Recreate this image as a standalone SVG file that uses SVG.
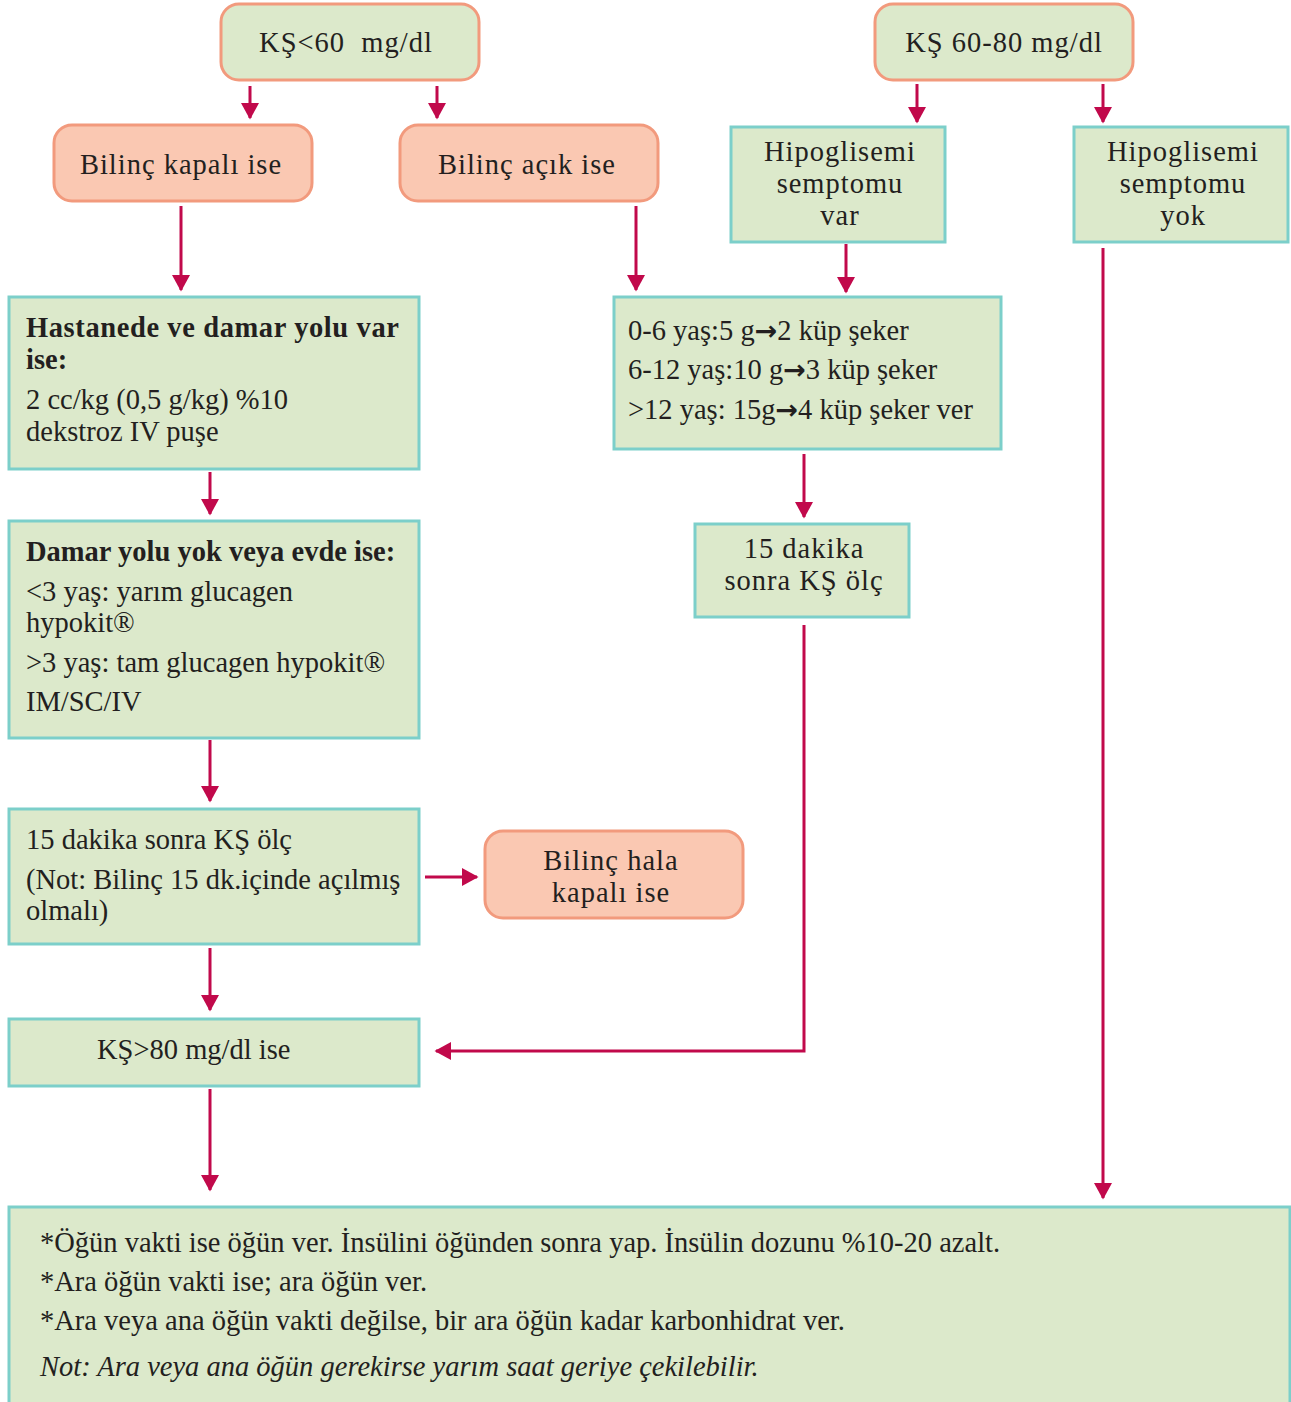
<svg xmlns="http://www.w3.org/2000/svg" width="1291" height="1402" viewBox="0 0 1291 1402">
<style>
text{font-family:"Liberation Serif","Times New Roman",serif;font-size:28.5px;fill:#231f20;white-space:pre}
.c{text-anchor:middle;letter-spacing:1px}
.b{font-weight:bold}
.i{font-style:italic}
.ar{font-family:"DejaVu Sans",sans-serif;font-weight:bold;font-size:27px}
.g{fill:#dce9cb;stroke:#7ccfca;stroke-width:3}
.o{fill:#fac8b2;stroke:#f29a7d;stroke-width:3}
.go{fill:#dce9cb;stroke:#f29a7d;stroke-width:3}
.ln{fill:none;stroke:#c1094b;stroke-width:3;marker-end:url(#ah)}
</style>
<defs>
<marker id="ah" markerWidth="6" markerHeight="6" refX="5" refY="3" orient="auto" markerUnits="strokeWidth">
<path d="M0,0 L5.5,3 L0,6 Z" fill="#c1094b"/>
</marker>
</defs>
<g id="connectors">
<path class="ln" d="M250,86 V118"/>
<path class="ln" d="M437,86 V118"/>
<path class="ln" d="M917,84 V122"/>
<path class="ln" d="M1103,84 V122"/>
<path class="ln" d="M181,206 V290"/>
<path class="ln" d="M636,206 V290"/>
<path class="ln" d="M846,244 V292"/>
<path class="ln" d="M210,472 V514"/>
<path class="ln" d="M804,454 V517"/>
<path class="ln" d="M210,740 V801"/>
<path class="ln" d="M425,877 H477"/>
<path class="ln" d="M210,948 V1010"/>
<path class="ln" d="M804,625 V1051 H436"/>
<path class="ln" d="M210,1089 V1190"/>
<path class="ln" d="M1103,248 V1198"/>
</g>
<g id="n1"><rect class="go" x="221" y="4" width="258" height="76" rx="18"/><text class="c" x="346" y="52">KŞ&lt;60  mg/dl</text></g>
<g id="n2"><rect class="go" x="875" y="4" width="258" height="76" rx="18"/><text class="c" x="1004" y="52">KŞ 60-80 mg/dl</text></g>
<g id="n3"><rect class="o" x="54" y="125" width="258" height="76" rx="18"/><text class="c" x="181" y="174">Bilinç kapalı ise</text></g>
<g id="n4"><rect class="o" x="400" y="125" width="258" height="76" rx="18"/><text class="c" x="527" y="174">Bilinç açık ise</text></g>
<g id="n5"><rect class="g" x="731" y="127" width="214" height="115"/><text class="c" x="840" y="161">Hipoglisemi</text><text class="c" x="840" y="193">semptomu</text><text class="c" x="840" y="225">var</text></g>
<g id="n6"><rect class="g" x="1074" y="127" width="214" height="115"/><text class="c" x="1183" y="161">Hipoglisemi</text><text class="c" x="1183" y="193">semptomu</text><text class="c" x="1183" y="225">yok</text></g>
<g id="n7"><rect class="g" x="9" y="297" width="410" height="172"/><text class="b" x="26" y="337" letter-spacing="0.6">Hastanede ve damar yolu var</text><text class="b" x="26" y="369">ise:</text><text x="26" y="409">2 cc/kg (0,5 g/kg) %10</text><text x="26" y="441">dekstroz IV puşe</text></g>
<g id="n8"><rect class="g" x="614" y="297" width="387" height="152"/><text x="628" y="340">0-6 yaş:5 g<tspan class="ar">→</tspan>2 küp şeker</text><text x="628" y="379">6-12 yaş:10 g<tspan class="ar">→</tspan>3 küp şeker</text><text x="628" y="419">&gt;12 yaş: 15g<tspan class="ar">→</tspan>4 küp şeker ver</text></g>
<g id="n9"><rect class="g" x="9" y="521" width="410" height="217"/><text class="b" x="26" y="561">Damar yolu yok veya evde ise:</text><text x="26" y="601">&lt;3 yaş: yarım glucagen</text><text x="26" y="632">hypokit®</text><text x="26" y="672">&gt;3 yaş: tam glucagen hypokit®</text><text x="26" y="711">IM/SC/IV</text></g>
<g id="n10"><rect class="g" x="695" y="524" width="214" height="93"/><text class="c" x="804" y="558">15 dakika</text><text class="c" x="804" y="590">sonra KŞ ölç</text></g>
<g id="n11"><rect class="g" x="9" y="809" width="410" height="135"/><text x="26" y="849">15 dakika sonra KŞ ölç</text><text x="26" y="889">(Not: Bilinç 15 dk.içinde açılmış</text><text x="26" y="920">olmalı)</text></g>
<g id="n12"><rect class="o" x="485" y="831" width="258" height="87" rx="18"/><text class="c" x="611" y="870">Bilinç hala</text><text class="c" x="611" y="902">kapalı ise</text></g>
<g id="n13"><rect class="g" x="9" y="1019" width="410" height="67"/><text x="97" y="1059">KŞ&gt;80 mg/dl ise</text></g>
<g id="n14"><rect class="g" x="9" y="1207" width="1281" height="210"/>
<text x="40" y="1252">*Öğün vakti ise öğün ver. İnsülini öğünden sonra yap. İnsülin dozunu %10-20 azalt.</text>
<text x="40" y="1291">*Ara öğün vakti ise; ara öğün ver.</text>
<text x="40" y="1330">*Ara veya ana öğün vakti değilse, bir ara öğün kadar karbonhidrat ver.</text>
<text class="i" x="40" y="1376">Not: Ara veya ana öğün gerekirse yarım saat geriye çekilebilir.</text>
</g>
</svg>
